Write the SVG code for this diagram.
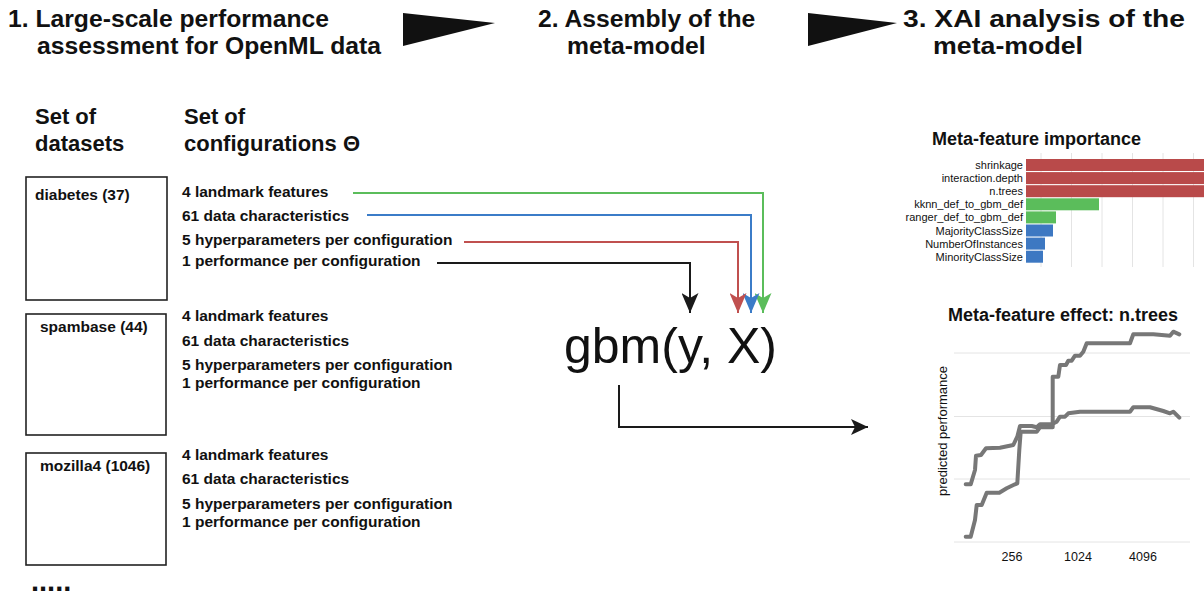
<svg xmlns="http://www.w3.org/2000/svg" width="1204" height="596" viewBox="0 0 1204 596">
<style>
text{font-family:"Liberation Sans",Arial,Helvetica,sans-serif;fill:#111}
.h{font-size:24.7px;font-weight:bold}
.s{font-size:22px;font-weight:bold}
.t{font-size:15.5px;font-weight:bold}
.box{fill:#fff;stroke:#222;stroke-width:1.6}
.lbl{font-size:11px;text-anchor:end}
.grid{stroke:#e4e4e4;stroke-width:1}
.curve{fill:none;stroke:#777;stroke-width:4;stroke-linejoin:round;stroke-linecap:round}
.ct{font-size:18px;font-weight:bold}
.tick{font-size:12.5px;text-anchor:middle}
.cn{fill:none;stroke-width:2}
</style>
<defs>
<marker id="ag" markerUnits="userSpaceOnUse" markerWidth="20" markerHeight="17" refX="20" refY="8.5" orient="auto"><path d="M0,0 L20,8.5 L0,17 L5,8.5 z" fill="#5bbd5b"/></marker>
<marker id="ab" markerUnits="userSpaceOnUse" markerWidth="20" markerHeight="17" refX="20" refY="8.5" orient="auto"><path d="M0,0 L20,8.5 L0,17 L5,8.5 z" fill="#3b7cc8"/></marker>
<marker id="ar" markerUnits="userSpaceOnUse" markerWidth="20" markerHeight="17" refX="20" refY="8.5" orient="auto"><path d="M0,0 L20,8.5 L0,17 L5,8.5 z" fill="#c0504f"/></marker>
<marker id="ak" markerUnits="userSpaceOnUse" markerWidth="20" markerHeight="17" refX="20" refY="8.5" orient="auto"><path d="M0,0 L20,8.5 L0,17 L5,8.5 z" fill="#1a1a1a"/></marker>
<marker id="ak2" markerUnits="userSpaceOnUse" markerWidth="17" markerHeight="16" refX="17" refY="8" orient="auto"><path d="M0,0 L17,8 L0,16 L4,8 z" fill="#1a1a1a"/></marker>
</defs>

<g id="headers">
<text class="h" x="8" y="27">1. Large-scale performance</text>
<text class="h" x="37" y="54">assessment for OpenML data</text>
<text class="h" x="538" y="27">2. Assembly of the</text>
<text class="h" x="567" y="54">meta-model</text>
<text class="h" x="903" y="27" textLength="282" lengthAdjust="spacingAndGlyphs">3. XAI analysis of the</text>
<text class="h" x="933" y="54" textLength="150" lengthAdjust="spacingAndGlyphs">meta-model</text>
<polygon points="403,13 495,23 403,46" fill="#111"/>
<polygon points="808,13 897,23 808,46" fill="#111"/>
</g>

<g id="columns">
<text class="s" x="35" y="124">Set of</text>
<text class="s" x="35" y="151">datasets</text>
<text class="s" x="184" y="124">Set of</text>
<text class="s" x="184" y="151">configurations Θ</text>
</g>

<g id="dataset-diabetes">
<rect class="box" x="26" y="177" width="141" height="123"/>
<text class="t" x="35" y="200">diabetes (37)</text>
<text class="t" x="182" y="197">4 landmark features</text>
<text class="t" x="182" y="221">61 data characteristics</text>
<text class="t" x="182" y="245">5 hyperparameters per configuration</text>
<text class="t" x="182" y="266">1 performance per configuration</text>
</g>

<g id="dataset-spambase">
<rect class="box" x="26" y="314" width="140" height="121"/>
<text class="t" x="40" y="332">spambase (44)</text>
<text class="t" x="182" y="321">4 landmark features</text>
<text class="t" x="182" y="346">61 data characteristics</text>
<text class="t" x="182" y="370">5 hyperparameters per configuration</text>
<text class="t" x="182" y="388">1 performance per configuration</text>
</g>

<g id="dataset-mozilla4">
<rect class="box" x="26" y="453" width="140" height="112"/>
<text class="t" x="40" y="471">mozilla4 (1046)</text>
<text class="t" x="182" y="460">4 landmark features</text>
<text class="t" x="182" y="484">61 data characteristics</text>
<text class="t" x="182" y="509">5 hyperparameters per configuration</text>
<text class="t" x="182" y="527">1 performance per configuration</text>
</g>

<g id="more">
<text x="31" y="591" style="font-size:29px;font-weight:bold">.....</text>
</g>

<g id="meta-model">
<text x="564" y="363" style="font-size:50px">gbm(y, X)</text>
</g>

<g id="connectors">
<path class="cn" d="M353,193 H763 V313" stroke="#5bbd5b" marker-end="url(#ag)"/>
<path class="cn" d="M367,215 H751 V313" stroke="#3b7cc8" marker-end="url(#ab)"/>
<path class="cn" d="M464,242 H738 V313" stroke="#c0504f" marker-end="url(#ar)"/>
<path class="cn" d="M437,263 H690 V313" stroke="#1a1a1a" marker-end="url(#ak)"/>
<path class="cn" d="M619,385 V427 H868" stroke="#1a1a1a" stroke-width="1.6" marker-end="url(#ak2)"/>
</g>

<g id="importance-chart">
<text class="ct" x="932" y="145">Meta-feature importance</text>
<line class="grid" x1="1041" y1="153" x2="1041" y2="267"/>
<line class="grid" x1="1071.5" y1="153" x2="1071.5" y2="267"/>
<line class="grid" x1="1102" y1="153" x2="1102" y2="267"/>
<line class="grid" x1="1132.5" y1="153" x2="1132.5" y2="267"/>
<line class="grid" x1="1163" y1="153" x2="1163" y2="267"/>
<line class="grid" x1="1193.5" y1="153" x2="1193.5" y2="267"/>
<rect x="1026" y="159" width="180" height="12" fill="#b94a4a"/>
<rect x="1026" y="172.1" width="180" height="12" fill="#b94a4a"/>
<rect x="1026" y="185.2" width="180" height="12" fill="#b94a4a"/>
<rect x="1026" y="198.3" width="73" height="12" fill="#5bbd5b"/>
<rect x="1026" y="211.4" width="30" height="12" fill="#5bbd5b"/>
<rect x="1026" y="224.5" width="27" height="12" fill="#3d78c2"/>
<rect x="1026" y="237.6" width="19" height="12" fill="#3d78c2"/>
<rect x="1026" y="250.7" width="17" height="12" fill="#3d78c2"/>
<text class="lbl" x="1023" y="169">shrinkage</text>
<text class="lbl" x="1023" y="182">interaction.depth</text>
<text class="lbl" x="1023" y="195">n.trees</text>
<text class="lbl" x="1023" y="208">kknn_def_to_gbm_def</text>
<text class="lbl" x="1023" y="221">ranger_def_to_gbm_def</text>
<text class="lbl" x="1023" y="234.5">MajorityClassSize</text>
<text class="lbl" x="1023" y="247.5">NumberOfInstances</text>
<text class="lbl" x="1023" y="260.5">MinorityClassSize</text>
</g>

<g id="effect-chart">
<text class="ct" x="948" y="321">Meta-feature effect: n.trees</text>
<line class="grid" x1="954" y1="353" x2="1190" y2="353"/>
<line class="grid" x1="954" y1="416.5" x2="1190" y2="416.5"/>
<line class="grid" x1="954" y1="479" x2="1190" y2="479"/>
<line class="grid" x1="954" y1="542" x2="1190" y2="542"/>
<text x="947" y="431" transform="rotate(-90 947 431)" style="font-size:13px;text-anchor:middle">predicted performance</text>
<text class="tick" x="1012" y="561">256</text>
<text class="tick" x="1078" y="561">1024</text>
<text class="tick" x="1143" y="561">4096</text>
<polyline class="curve" points="965.7,484.3 970.7,484.3 975,470 976,455.7 981,455 986,448.3 1000,447.7 1013.3,445 1017.3,436.7 1020,426 1031.7,426 1036.7,427.3 1040,424.3 1051.7,424.3 1056.7,421.7 1060,416.7 1065,416.7 1068.3,413.3 1080,411.7 1130,411.7 1133.3,407.3 1150,407.3 1163.3,411 1170,413.3 1173.3,411.7 1179.3,417.7"/>
<polyline class="curve" points="965.7,536.7 970.7,536.7 975,520 976.7,505 981.7,505 986.7,492.7 999.3,492.7 1006.7,488.3 1015,484.3 1017.3,483.3 1019.3,450 1020.7,431.7 1036.7,431.7 1040,427.3 1052.7,427.3 1052.7,376.7 1058.3,376.7 1060,365 1066,365 1068.3,360.7 1071.7,360.7 1075,355.7 1080,355.7 1083.3,351.7 1086.7,343.3 1130,343.3 1133.3,334.3 1153.3,334.3 1170,335.7 1173.3,331.7 1179.3,334.3"/>
</g>
</svg>
